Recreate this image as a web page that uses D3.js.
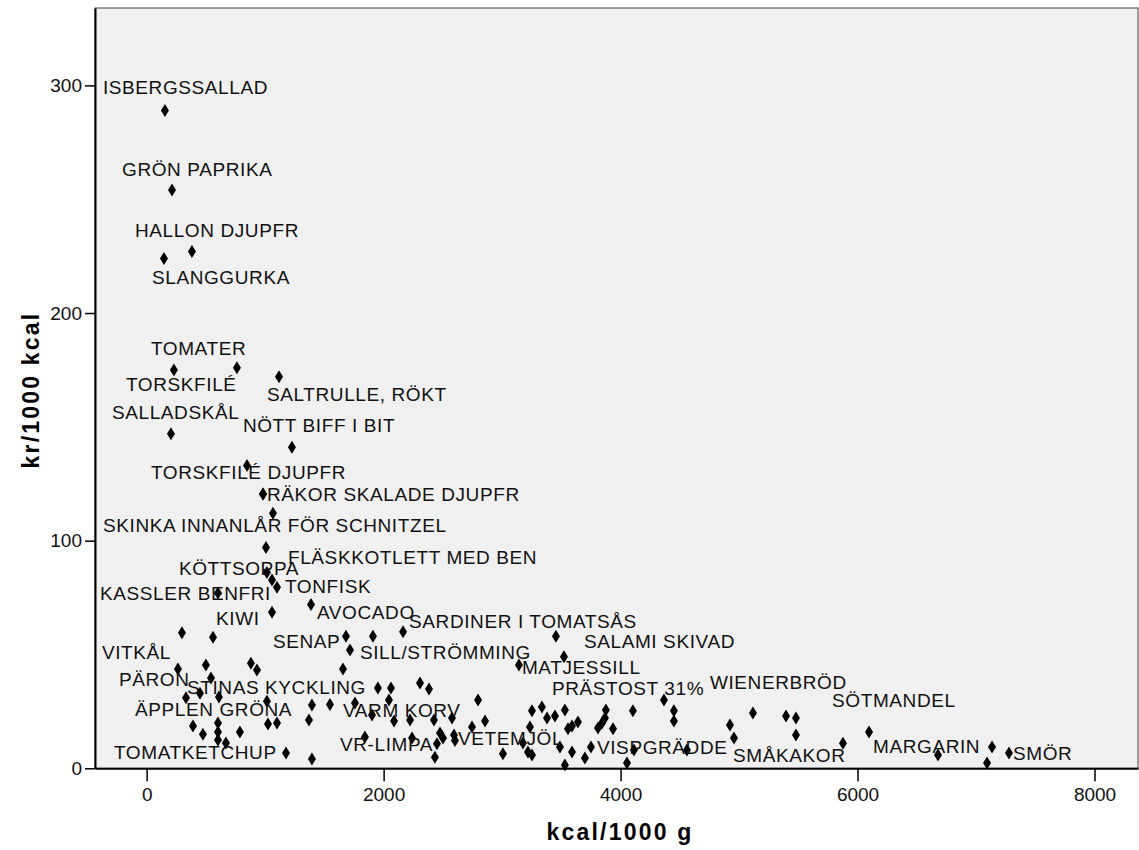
<!DOCTYPE html>
<html>
<head>
<meta charset="utf-8">
<script src="https://cdn.jsdelivr.net/npm/d3@7/dist/d3.min.js"></script>
<style>
  body { margin: 0; background: #fff; }
  svg text { font-family: Arial, "Liberation Sans", sans-serif; }
</style>
</head>
<body>
<svg id="chart" width="1139" height="850"></svg>
<script>
// food names ('' = no label), kcal per 1000 g, kr per 1000 kcal
var foods = [
  'ISBERGSSALLAD', 'GRÖN PAPRIKA', 'HALLON DJUPFR', 'SLANGGURKA', 'TOMATER', 'TORSKFILÉ',
  'SALTRULLE, RÖKT', 'SALLADSKÅL', 'NÖTT BIFF I BIT', 'TORSKFILÉ DJUPFR', 'RÄKOR SKALADE DJUPFR',
  'SKINKA INNANLÅR FÖR SCHNITZEL', 'FLÄSKKOTLETT MED BEN', 'KÖTTSOPPA', 'KASSLER BENFRI', 'TONFISK',
  'KIWI', 'AVOCADO', 'SARDINER I TOMATSÅS', 'SALAMI SKIVAD', 'SENAP', 'SILL/STRÖMMING', 'VITKÅL',
  'PÄRON', 'MATJESSILL', 'PRÄSTOST 31%', 'WIENERBRÖD', 'SÖTMANDEL', 'MARGARIN', 'SMÅKAKOR', 'SMÖR',
  'VISPGRÄDDE', 'VETEMJÖL', 'VR-LIMPA', 'VARM KORV', 'STINAS KYCKLING', 'ÄPPLEN GRÖNA', 'TOMATKETCHUP'
]
var kcal = [
  154, 214, 382, 146, 230, 762,
  1117, 205, 1226, 847, 982,
  1066, 1007, 1015, 602, 1100,
  1058, 1387, 2164, 3522, 1682, 1716, 298,
  264, 3142, 4366, 5117, 6097, 6679, 5877, 7278,
  3750, 2594, 2450, 1547, 450, 332, 1176,
  // unlabeled
  3454, 560, 1058, 1910, 500, 880, 931, 1657, 543, 610,
  1015, 1395, 1370, 1024, 1100, 391, 475, 602, 602, 787,
  602, 669, 1395, 1758, 1902, 2088, 2223, 2425, 1842, 1952,
  2062, 2307, 2383, 2045, 2797, 2577, 2476, 2501, 2433, 2602,
  2240, 2746, 2856, 3007, 3176, 3218, 3235, 3252, 3336, 3379,
  3446, 3530, 3556, 3590, 3640, 3488, 3590, 3252, 3530, 3699,
  3876, 3868, 3843, 3809, 3936, 4104, 4113, 4054, 4450, 4450,
  4560, 4923, 4957, 5396, 5480, 5480, 7135, 7093, 982
]
var krPer1000 = [
  289, 254, 227, 224, 175, 176,
  172, 147, 141, 133, 120.5,
  112, 97, 86, 77, 79.5,
  68.6, 72, 60, 49, 58, 52, 59.5,
  43.6, 45.4, 30, 24.3, 16, 5.8, 11, 6.7,
  9.4, 14.6, 10.8, 28, 33, 31, 6.7,
  // unlabeled
  58, 57.6, 82.7, 58, 45.4, 46.2, 43.2, 43.6, 39.7, 31.3,
  29.5, 27.8, 21.2, 19.5, 19.9, 18.6, 15, 19.9, 15.9, 15.9,
  12.4, 11.1, 4.1, 28.7, 23.4, 20.8, 21.2, 21.2, 13.7, 35.3,
  35.3, 37.5, 34.8, 30, 30, 22.1, 15.5, 13.3, 4.9, 12.2,
  13.3, 18.1, 20.8, 6.4, 11.1, 7.2, 18.1, 25.3, 26.9, 22.1,
  23, 25.6, 17.4, 18.6, 20.3, 9.4, 7.2, 5.8, 1.4, 4.5,
  25.6, 22.1, 19.9, 17.7, 17.4, 25.3, 8, 2.3, 25.3, 20.8,
  8, 19, 13.3, 23, 22.1, 14.6, 9.4, 2.3, 120.5
]
var xTicks = [0, 2000, 4000, 6000, 8000]
var yTicks = [0, 100, 200, 300]

// label placement: pixel nudge from the point to the label's left edge / middle
var labelNudge = {
  'ISBERGSSALLAD': [-62, -23], 'GRÖN PAPRIKA': [-50, -21], 'HALLON DJUPFR': [-57, -21],
  'SLANGGURKA': [-12, 19], 'TOMATER': [-23, -22], 'TORSKFILÉ': [-111, 17],
  'SALTRULLE, RÖKT': [-12, 18], 'SALLADSKÅL': [-59, -21], 'NÖTT BIFF I BIT': [-49, -22],
  'TORSKFILÉ DJUPFR': [-96, 7], 'RÄKOR SKALADE DJUPFR': [4, 0],
  'SKINKA INNANLÅR FÖR SCHNITZEL': [-170, 12], 'FLÄSKKOTLETT MED BEN': [22, 10],
  'KÖTTSOPPA': [-88, -4], 'KASSLER BENFRI': [-118, 0], 'TONFISK': [8, -1], 'KIWI': [-56, 6],
  'AVOCADO': [6, 8], 'SARDINER I TOMATSÅS': [6, -10], 'SALAMI SKIVAD': [20, -15],
  'SENAP': [-73, 5], 'SILL/STRÖMMING': [10, 2], 'VITKÅL': [-80, 19], 'PÄRON': [-59, 10],
  'MATJESSILL': [3, 2], 'PRÄSTOST 31%': [-112, -12], 'WIENERBRÖD': [-43, -31],
  'SÖTMANDEL': [-37, -32], 'MARGARIN': [-65, -9], 'SMÅKAKOR': [-110, 12], 'SMÖR': [4, 0],
  'VISPGRÄDDE': [6, 0], 'VETEMJÖL': [4, 3], 'VR-LIMPA': [-97, 1], 'VARM KORV': [13, 6],
  'STINAS KYCKLING': [-13, -6], 'ÄPPLEN GRÖNA': [-51, 12], 'TOMATKETCHUP': [-172, -1]
}

var data = kcal.map((k, i) => ({ name: foods[i] || '', kcal: k, kr: krPer1000[i] }))

var plotL = 95, plotR = 1138, plotT = 8, plotB = 768.3
var svg = d3.select('#chart')

var x = d3.scaleLinear().domain([-436, 8367]).range([plotL, plotR])
var y = d3.scaleLinear().domain([0, 334]).range([plotB, plotT])

svg.append('rect')
  .attr('x', plotL).attr('y', plotT)
  .attr('width', plotR - plotL).attr('height', plotB - plotT)
  .style('fill', '#f0f0f0')
  .style('stroke', '#444')
  .style('stroke-width', 1)

// points
svg.append('g').selectAll('path')
  .data(data)
  .enter()
  .append('path')
  .attr('d', 'M0,-6.5L4,0L0,6.5L-4,0Z')
  .attr('transform', d => 'translate(' + x(d.kcal) + ',' + y(d.kr) + ')')
  .style('fill', '#000')

// labels
svg.append('g').selectAll('text')
  .data(data.filter(d => d.name))
  .enter()
  .append('text')
  .attr('x', d => x(d.kcal) + labelNudge[d.name][0])
  .attr('y', d => y(d.kr) + labelNudge[d.name][1])
  .attr('dy', '0.35em')
  .style('font-size', '19px')
  .style('letter-spacing', '0.6px')
  .style('fill', '#111')
  .text(d => d.name)

// axes
var xAxis = svg.append('g')
  .attr('transform', 'translate(0,' + plotB + ')')
  .call(d3.axisBottom(x).tickValues(xTicks).tickFormat(d3.format('d')).tickSize(13).tickPadding(6).tickSizeOuter(0))
var yAxis = svg.append('g')
  .attr('transform', 'translate(' + plotL + ',0)')
  .call(d3.axisLeft(y).tickValues(yTicks).tickSize(10).tickPadding(3).tickSizeOuter(0))

;[xAxis, yAxis].forEach(a => {
  a.select('.domain').style('stroke', '#000').style('stroke-width', 2)
  a.selectAll('.tick line').style('stroke', '#000').style('stroke-width', 1.5)
  a.selectAll('.tick text').style('font-size', '19px').style('fill', '#111')
    .style('font-family', 'Arial, "Liberation Sans", sans-serif')
})

svg.append('text')
  .attr('x', 620)
  .attr('y', 840)
  .attr('text-anchor', 'middle')
  .style('font-size', '23px')
  .style('letter-spacing', '2.2px')
  .style('font-weight', 'bold')
  .text('kcal/1000 g')

svg.append('text')
  .attr('transform', 'translate(31,390) rotate(-90)')
  .attr('text-anchor', 'middle')
  .attr('dy', '0.35em')
  .style('font-size', '23px')
  .style('letter-spacing', '2.2px')
  .style('font-weight', 'bold')
  .text('kr/1000 kcal')
</script>
</body>
</html>
